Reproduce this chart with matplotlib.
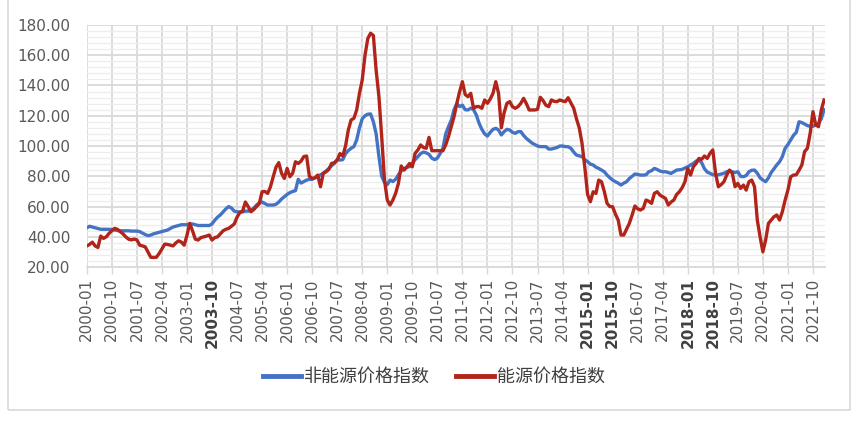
import matplotlib
matplotlib.use('Agg')
import matplotlib.pyplot as plt
from matplotlib.ticker import MultipleLocator, FormatStrFormatter
from matplotlib.patches import Rectangle
import numpy as np

plt.rcParams['font.family'] = ['DejaVu Sans']

# 数据 (月度, 2000-01 起)
non_energy = [
    46, 47, 46.5, 46, 45.5, 45, 45, 45, 45, 44.8,
    44.5, 44.2, 44, 44, 44, 44, 43.8, 43.8, 43.8, 43.5,
    42.5, 41.5, 40.8, 41.2, 42, 42.5, 43, 43.5, 44, 44.5,
    45.5, 46.5, 47, 47.5, 48, 48, 48, 48.5, 48.5, 48,
    47.5, 47.5, 47.5, 47.5, 47.5, 48.5, 51, 53, 54.5, 56.5,
    58.5, 60, 59, 57, 56.5, 56.5, 56.5, 57, 57, 57.5,
    59, 61, 62.5, 63, 62, 61, 61, 61, 61.5, 63,
    65, 66.5, 68, 69.2, 70, 70.5, 78, 75.5, 76.5, 77.5,
    78, 78, 79, 79.7, 81, 82, 83.5, 85.2, 87, 88.5,
    91, 90.7, 91, 95, 97, 98.5, 99.6, 104, 112, 118,
    120, 121, 121.2, 116, 108, 93, 80, 76, 74.5, 77.5,
    76.5, 78, 81, 83.5, 85, 86, 86.3, 88.5, 91, 93,
    95, 96, 95.5, 94.5, 92, 91, 92, 95, 98.5, 108,
    112.8, 117, 124, 128, 126, 127, 124, 123.8, 125, 124,
    120.5, 115, 111, 108, 106.6, 109, 111, 111.7, 110.6, 107.3,
    109.5, 111, 110.6, 109, 108.4, 109.5, 109.5, 107, 105, 103.5,
    102, 101, 100, 99.6, 99.6, 99.6, 98, 98, 98.5, 99,
    100, 100, 99.6, 99.5, 98.5, 96, 94, 93.5, 93, 91,
    89.7, 88, 87.5, 86, 85.2, 84.1, 83, 80.8, 79, 77.5,
    76.4, 75.5, 74.2, 75.5, 76.4, 78.5, 80, 81.5, 81.2, 80.8,
    80.8, 81, 83, 83.7, 85.2, 84.5, 83.5, 83, 83, 82.5,
    81.9, 83, 84.1, 84.3, 84.6, 85.5, 86.3, 87.5, 88.5, 90,
    90.7, 89, 85, 82.8, 82, 81, 80.8, 81, 81.5, 82,
    83, 83.5, 83, 82.5, 83, 80, 79.7, 80.5, 83, 84,
    84.1, 82, 79, 77.5, 76.4, 79, 82.5, 85, 87.5, 89.6,
    93, 98.5, 101, 104, 107, 109, 116, 115.5, 114.5, 113.5,
    113, 113, 113.9, 115, 118, 124,
]

energy = [
    34, 35, 36.5, 34, 33, 40.5, 39, 40, 42.3, 44,
    45.6, 45, 43.4, 42, 40, 38.5, 38, 38.5, 38, 34.5,
    34, 33.4, 30, 26.5, 26.4, 26.5, 29, 32, 35.2, 35,
    34.5, 34, 36, 37.4, 36.5, 34.5, 41, 48.9, 44, 38.5,
    37.9, 39.5, 40, 40.5, 41.2, 37.9, 39.5, 40, 42, 44,
    45, 45.6, 47, 48.5, 53, 56, 57, 63, 60, 56.6,
    58, 60, 62, 69.8, 70, 68.7, 73, 79.7, 86, 89,
    82, 78.6, 85.2, 79.7, 82, 89.6, 88.5, 90, 93, 93.4,
    80, 78.6, 79, 80.8, 73.1, 82, 83, 84.6, 88.5, 89,
    90.7, 95, 93.4, 100, 110.6, 117.2, 118.3, 123.8, 134.8, 143.6,
    160, 171, 174.5, 173, 150, 132.6, 106, 77.5, 64.3, 61,
    64.3, 68.7, 75.3, 86.8, 84.1, 86, 88.5, 86.3, 95.2, 97.4,
    100.7, 99, 98.5, 105.7, 96.9, 96.9, 96.9, 96.9, 96.9, 100.7,
    106.2, 112.8, 119.4, 128.2, 135.9, 142.5, 134, 132.6, 134.8, 124.9,
    126, 126, 124.9, 130.4, 128.2, 131, 134.8, 142.5, 134.8, 112,
    122, 128.2, 129.3, 126, 124.9, 126, 128.2, 131.5, 128, 123.8,
    123.8, 123.8, 124.2, 132.2, 130, 127, 126, 130.4, 129.5, 129.3,
    130.4, 129.8, 129.3, 131.9, 128.5, 125, 118, 112, 101.8, 86,
    68, 63.2, 69.8, 68.7, 77.5, 76.4, 70, 62.1, 60, 59.9,
    55, 51.1, 41.2, 41.2, 45, 48.9, 54.4, 60.4, 58.5, 57.7,
    58.8, 64.3, 63.5, 62.1, 68.7, 69.8, 67.6, 66.5, 65.4, 61,
    63, 64.3, 68, 69.8, 72.5, 76.4, 85.2, 80.8, 86.3, 88.5,
    91.8, 91.2, 93.4, 91.8, 95.2, 97.4, 81.9, 73.1, 74.5, 76.4,
    80.8, 84.1, 82, 73.1, 75.3, 72, 74.2, 70.9, 76.4, 77.5,
    73.1, 51.1, 40, 30.1, 37.9, 48.9, 51.1, 53.3, 54.4, 51.1,
    56.6, 64.3, 70.9, 79.7, 80.8, 81, 84, 87.4, 96.3, 98.5,
    108.4, 122.7, 113.9, 112.8, 123.8, 130.4,
]

tick_labels = [
    '2000-01', '2000-10', '2001-07', '2002-04', '2003-01', '2003-10',
    '2004-07', '2005-04', '2006-01', '2006-10', '2007-07', '2008-04',
    '2009-01', '2009-10', '2010-07', '2011-04', '2012-01', '2012-10',
    '2013-07', '2014-04', '2015-01', '2015-10', '2016-07', '2017-04',
    '2018-01', '2018-10', '2019-07', '2020-04', '2021-01', '2021-10',
]
bold_labels = ['2003-10', '2015-01', '2015-10', '2018-01', '2018-10']

x = np.arange(len(energy))
tick_pos = np.arange(len(tick_labels)) * 9

fig = plt.figure(figsize=(8.68, 4.22), dpi=100)
ax = fig.add_axes([0.1, 0.367, 0.851, 0.574])

# 外框
fig.patches.append(Rectangle((8 / 868, 1 - 410 / 422), 842 / 868, 410 / 422 + 0.01,
                             transform=fig.transFigure, fill=False,
                             edgecolor='#D9D9D9', linewidth=1.2))

ax.plot(x, non_energy, color='#4472C4', linewidth=2.4, label='非能源价格指数',
        solid_joinstyle='round', zorder=3)
ax.plot(x, energy, color='#B1241A', linewidth=2.4, label='能源价格指数',
        solid_joinstyle='round', zorder=4)

ax.set_xlim(0, 265.5)
ax.set_ylim(20, 180)
ax.yaxis.set_major_locator(MultipleLocator(20))
ax.yaxis.set_minor_locator(MultipleLocator(4))
ax.yaxis.set_major_formatter(FormatStrFormatter('%.2f'))
ax.set_xticks(tick_pos)
ax.set_xticklabels(tick_labels, rotation=90, fontsize=11, color='#595959')
for lab in ax.get_xticklabels():
    if lab.get_text() in bold_labels:
        lab.set_fontweight('bold')
        lab.set_color('#404040')

ax.tick_params(axis='y', which='both', length=0, labelsize=11, labelcolor='#595959', pad=12)
ax.tick_params(axis='x', length=5, width=1, color='#D9D9D9', pad=3)

ax.grid(axis='y', which='major', color='#D9D9D9', linewidth=1.3, zorder=0)
ax.grid(axis='y', which='minor', color='#EDEDED', linewidth=0.9, zorder=0)
ax.grid(axis='x', which='major', color='#D9D9D9', linewidth=1.3, zorder=0)
ax.set_axisbelow(True)

for s in ['top', 'right', 'left']:
    ax.spines[s].set_visible(False)
ax.spines['bottom'].set_color('#D9D9D9')
ax.spines['bottom'].set_linewidth(1.3)

leg = fig.legend(loc='center', bbox_to_anchor=(0.5, 0.107), ncol=2, frameon=False,
                 prop={'family': ['Noto Sans CJK SC', 'DejaVu Sans'], 'size': 13},
                 handlelength=2.1, handletextpad=0.2, columnspacing=1.4)
for t in leg.get_texts():
    t.set_color('#404040')
for h in leg.get_lines():
    h.set_linewidth(3.5)

fig.savefig('out.png', dpi=100)
